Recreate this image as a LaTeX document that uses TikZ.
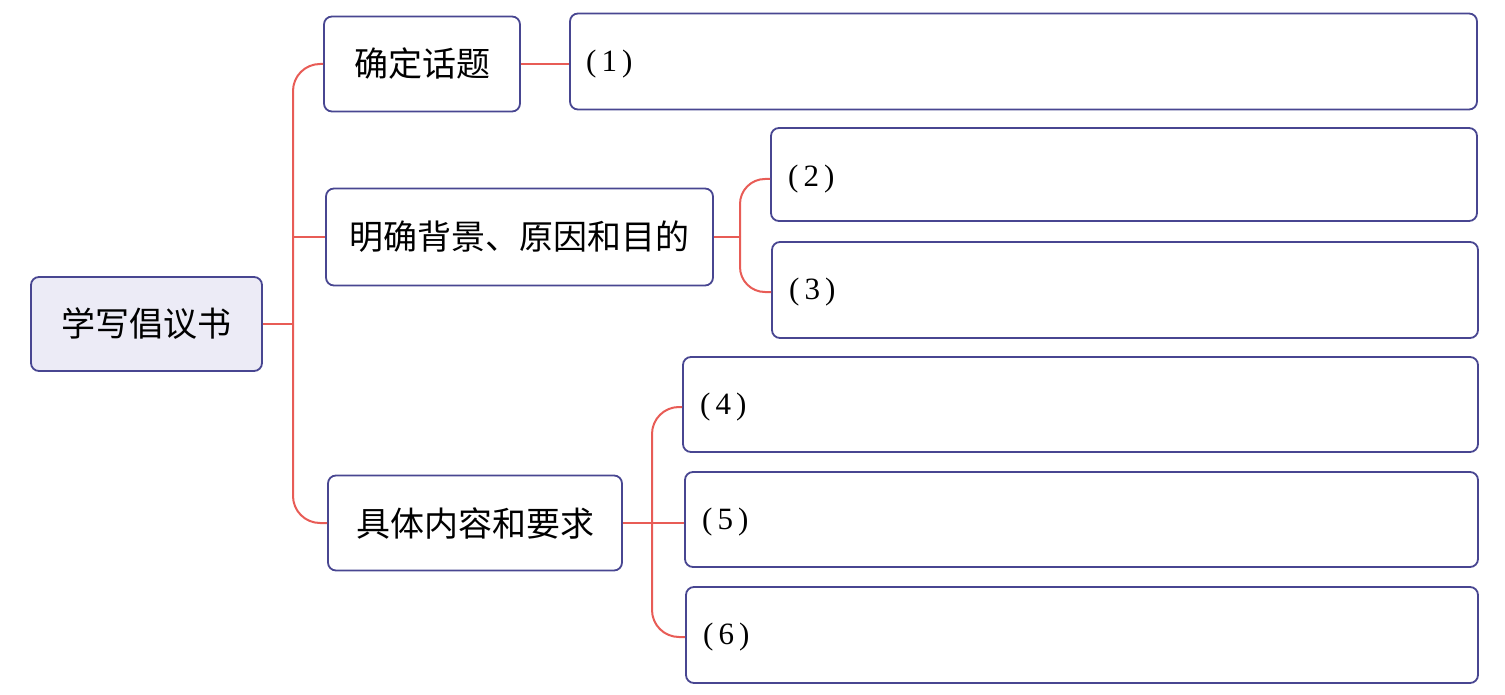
\documentclass[tikz,border=0pt]{standalone}
\usepackage{fontspec}
\newfontfamily\cjk{Noto Sans CJK SC}
\newfontfamily\labfont{Liberation Serif}
\definecolor{bordercol}{RGB}{72,70,145}
\definecolor{linecol}{RGB}{232,92,86}
\definecolor{rootfill}{RGB}{236,235,246}
\newcommand\numlab[1]{(\kern5pt#1\kern5pt)}
\begin{document}
\begin{tikzpicture}[x=1pt,y=-1pt,
  box/.style={draw=bordercol, line width=1.8pt, rounded corners=8pt, inner sep=0pt},
  conn/.style={draw=linecol, line width=2pt, rounded corners=27pt},
  cn/.style={font=\cjk\fontsize{34pt}{40pt}\selectfont},
  num/.style={font=\labfont\fontsize{31pt}{34pt}\selectfont, inner sep=0pt, anchor=west}]
\useasboundingbox (0,0) rectangle (1505,695);
% root and first level
\node[box, cn, fill=rootfill, minimum width=231pt, minimum height=94pt] (root) at (146.5,324) {学写倡议书};
\node[box, cn, minimum width=196pt, minimum height=95pt] (A) at (422,64) {确定话题};
\node[box, cn, minimum width=387pt, minimum height=97pt] (B) at (519.5,237) {明确背景、原因和目的};
\node[box, cn, minimum width=294pt, minimum height=95pt] (C) at (475,523) {具体内容和要求};
% answer boxes
\node[box, minimum width=907pt, minimum height=96pt] (b1) at (1023.5,61.5) {};
\node[box, minimum width=706pt, minimum height=93pt] (b2) at (1124,174.5) {};
\node[box, minimum width=706pt, minimum height=96pt] (b3) at (1125,290) {};
\node[box, minimum width=795pt, minimum height=95pt] (b4) at (1080.5,404.5) {};
\node[box, minimum width=793pt, minimum height=95pt] (b5) at (1081.5,519.5) {};
\node[box, minimum width=792pt, minimum height=96pt] (b6) at (1082,635) {};
% labels
\node[num] (l1) at (586,64) {\numlab{1}};
\node[num] (l2) at (788,179) {\numlab{2}};
\node[num] (l3) at (789,292) {\numlab{3}};
\node[num] (l4) at (700,407) {\numlab{4}};
\node[num] (l5) at (702,522) {\numlab{5}};
\node[num] (l6) at (703,637) {\numlab{6}};
% anchor points
\coordinate (t1) at (293,324);
\coordinate (t2) at (740,237);
\coordinate (t3) at (652,523);
\coordinate (p1) at (b1.west |- A.east);
\coordinate (p2) at (b2.west |- l2.west);
\coordinate (p3) at (b3.west |- l3.west);
\coordinate (p4) at (b4.west |- l4.west);
\coordinate (p5) at (b5.west |- C.east);
\coordinate (p6) at (b6.west |- l6.west);
% connectors
\draw[conn] (root.east) -- (t1);
\draw[conn] (t1) |- (A.west);
\draw[conn] (t1) |- (C.west);
\draw[conn] (t1 |- B.west) -- (B.west);
\draw[conn] (A.east) -- (p1);
\draw[conn] (B.east) -- (t2);
\draw[conn, rounded corners=25pt] (t2) |- (p2);
\draw[conn, rounded corners=25pt] (t2) |- (p3);
\draw[conn] (C.east) -- (p5);
\draw[conn] (t3) |- (p4);
\draw[conn] (t3) |- (p6);
\end{tikzpicture}
\end{document}
